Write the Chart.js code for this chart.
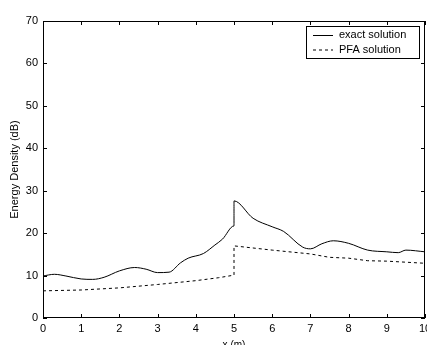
<!DOCTYPE html>
<html>
<head>
<meta charset="utf-8">
<script src="https://cdn.jsdelivr.net/npm/chart.js@4"></script>
<style>
  html, body { margin: 0; padding: 0; background: #fff; overflow: hidden; }
</style>
</head>
<body>
<canvas id="energy" width="427" height="345"></canvas>
<script>
// energy density along the beam, exact vs PFA
const exactX = [0, 0.3, 0.6, 1, 1.3, 1.6, 2, 2.4, 2.7, 3, 3.3, 3.6, 3.8, 4.2, 4.5, 4.7, 5, 5, 5.5, 6, 6.3, 6.8, 7, 7.3, 7.6, 8, 8.5, 9, 9.3, 9.5, 10];
const exactY = [9.9, 10.3, 9.9, 9.2, 9.1, 9.6, 11.1, 11.9, 11.5, 10.7, 10.8, 13.0, 14.1, 15.2, 17.2, 18.6, 21.7, 27.6, 23.5, 21.5, 20.4, 16.7, 16.3, 17.5, 18.2, 17.6, 16.0, 15.6, 15.4, 16.0, 15.6];
const pfaX = [0, 1, 2, 3, 4, 4.6, 5, 5, 6, 7, 7.5, 8, 8.5, 9, 10];
const pfaY = [6.4, 6.6, 7.1, 7.9, 8.8, 9.5, 10.1, 17.0, 16.0, 15.1, 14.3, 14.1, 13.5, 13.4, 12.9];
const xTicks = [0, 1, 2, 3, 4, 5, 6, 7, 8, 9, 10];
const yTicks = [0, 10, 20, 30, 40, 50, 60, 70];

const pts = (xs, ys) => xs.map((x, i) => ({ x: x, y: ys[i] }));
const FONT = 'Liberation Sans, Arial, sans-serif';

// matlab style box with inward ticks and legend inside the axes
const boxPlugin = {
  id: 'box',
  afterDraw(chart) {
    const { ctx, chartArea: a, scales } = chart;
    ctx.save();
    ctx.strokeStyle = '#000';
    ctx.lineWidth = 1;
    ctx.strokeRect(a.left + 0.5, a.top + 0.5, a.right - a.left - 1, a.bottom - a.top - 1);
    ctx.beginPath();
    xTicks.forEach(v => {
      const px = Math.round(scales.x.getPixelForValue(v)) + 0.5;
      ctx.moveTo(px, a.bottom); ctx.lineTo(px, a.bottom - 4);
      ctx.moveTo(px, a.top); ctx.lineTo(px, a.top + 4);
    });
    yTicks.forEach(v => {
      const py = Math.round(scales.y.getPixelForValue(v)) + 0.5;
      ctx.moveTo(a.left, py); ctx.lineTo(a.left + 4, py);
      ctx.moveTo(a.right, py); ctx.lineTo(a.right - 4, py);
    });
    ctx.stroke();

    // legend
    const lx = a.right - 119, ly = a.top + 5, lw = 113, lh = 32;
    ctx.fillStyle = '#fff';
    ctx.fillRect(lx, ly, lw, lh);
    ctx.strokeRect(lx + 0.5, ly + 0.5, lw, lh);
    ctx.font = '11px ' + FONT;
    ctx.textBaseline = 'middle';
    ctx.fillStyle = '#000';
    chart.data.datasets.forEach((ds, i) => {
      const yy = ly + 9 + i * 14.5;
      ctx.setLineDash(ds.borderDash || []);
      ctx.beginPath();
      ctx.moveTo(lx + 7, yy + 0.5); ctx.lineTo(lx + 27, yy + 0.5);
      ctx.stroke();
      ctx.setLineDash([]);
      ctx.fillText(ds.label, lx + 33, yy);
    });
    ctx.restore();
  }
};

new Chart(document.getElementById('energy'), {
  type: 'line',
  data: {
    datasets: [{
      label: 'exact solution',
      data: pts(exactX, exactY),
      borderColor: '#000',
      borderWidth: 1,
      pointRadius: 0,
      tension: 0.3,
      cubicInterpolationMode: 'monotone'
    }, {
      label: 'PFA solution',
      data: pts(pfaX, pfaY),
      borderColor: '#000',
      borderWidth: 1,
      borderDash: [3, 3],
      pointRadius: 0,
      tension: 0
    }]
  },
  options: {
    responsive: false,
    animation: false,
    maintainAspectRatio: false,
    layout: { padding: { left: 0, right: 2, top: 21, bottom: -6 } },
    plugins: { legend: { display: false }, tooltip: { enabled: false } },
    scales: {
      x: {
        type: 'linear', min: 0, max: 10,
        afterBuildTicks: s => { s.ticks = xTicks.map(v => ({ value: v })); },
        afterFit: s => { s.height = 33; s.paddingLeft = 0; s.paddingRight = 0; },
        grid: { display: false, tickLength: 0 },
        border: { display: false },
        ticks: { color: '#000', font: { family: FONT, size: 11 }, padding: 4, maxRotation: 0 },
        title: { display: true, text: 'x (m)', color: '#000', font: { family: FONT, size: 10 }, padding: 0 }
      },
      y: {
        min: 0, max: 70,
        afterBuildTicks: s => { s.ticks = yTicks.map(v => ({ value: v })); },
        afterFit: s => { s.width = 43; s.paddingTop = 0; s.paddingBottom = 0; },
        grid: { display: false, tickLength: 0 },
        border: { display: false },
        ticks: { color: '#000', font: { family: FONT, size: 11 }, padding: 5 },
        title: { display: true, text: 'Energy Density (dB)', color: '#000', font: { family: FONT, size: 11 }, padding: { top: 8, bottom: 0 } }
      }
    }
  },
  plugins: [boxPlugin]
});
</script>
</body>
</html>
